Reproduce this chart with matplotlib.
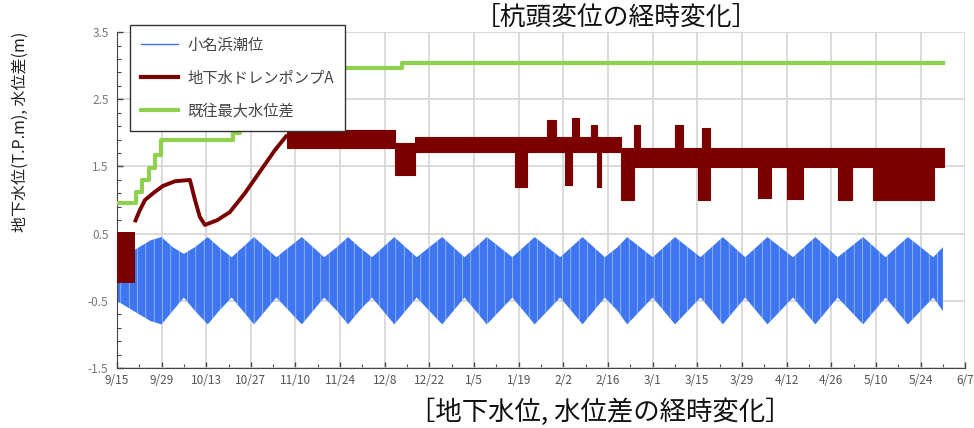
import matplotlib
matplotlib.use("Agg")
import matplotlib.pyplot as plt
import numpy as np
import datetime as dt

plt.rcParams['font.family'] = ['Noto Sans CJK JP', 'DejaVu Sans']
plt.rcParams['hatch.linewidth'] = 0.35

START = dt.datetime(2015, 9, 15)

# ---------------- data (days since 9/15) ----------------
tick_labels = ["9/15", "9/29", "10/13", "10/27", "11/10", "11/24", "12/8", "12/22",
               "1/5", "1/19", "2/2", "2/16", "3/1", "3/15", "3/29", "4/12",
               "4/26", "5/10", "5/24", "6/7"]
y_ticks = [3.5, 2.5, 1.5, 0.5, -0.5, -1.5]

# tide level (小名浜潮位) envelope
tide_days = [0, 3.5, 7, 10.5, 14, 17.5, 21, 24.5, 28.5, 32, 36, 39.5, 43, 46.5, 50,
             54, 58, 61.5, 65, 69, 72.5, 76, 80, 83.5, 87, 90.5, 94, 98, 102,
             105.5, 109, 112.5, 116, 120, 124, 127.5, 131, 135, 139, 142.5, 146,
             149.5, 153, 157, 160, 164, 168, 171.5, 175, 179, 183, 186.5, 190,
             193.5, 197, 200.5, 204, 208, 212, 215.5, 219, 222.5, 226, 230, 234,
             237.5, 241, 244.5, 248, 252, 256, 259]
tide_high = [-0.25, 0.2, 0.3, 0.4, 0.45, 0.3, 0.2, 0.3, 0.45, 0.3, 0.15, 0.3, 0.45,
             0.3, 0.15, 0.3, 0.45, 0.3, 0.15, 0.3, 0.45, 0.3, 0.15, 0.3, 0.45, 0.3,
             0.15, 0.3, 0.45, 0.3, 0.15, 0.3, 0.45, 0.3, 0.15, 0.3, 0.45, 0.3, 0.15,
             0.3, 0.45, 0.3, 0.15, 0.3, 0.45, 0.3, 0.15, 0.3, 0.45, 0.3, 0.15, 0.3,
             0.45, 0.3, 0.15, 0.3, 0.45, 0.3, 0.15, 0.3, 0.45, 0.3, 0.15, 0.3, 0.45,
             0.3, 0.15, 0.3, 0.45, 0.3, 0.15, 0.3]
tide_low = [-0.5, -0.6, -0.7, -0.8, -0.85, -0.65, -0.45, -0.65, -0.85, -0.65,
            -0.45, -0.65, -0.85, -0.65, -0.45, -0.65, -0.85, -0.65, -0.45, -0.65,
            -0.85, -0.65, -0.45, -0.65, -0.85, -0.65, -0.45, -0.65, -0.85, -0.65,
            -0.45, -0.65, -0.85, -0.65, -0.45, -0.65, -0.85, -0.65, -0.45, -0.65,
            -0.85, -0.65, -0.45, -0.65, -0.85, -0.65, -0.45, -0.65, -0.85, -0.65,
            -0.45, -0.65, -0.85, -0.65, -0.45, -0.65, -0.85, -0.65, -0.45, -0.65,
            -0.85, -0.65, -0.45, -0.65, -0.85, -0.65, -0.45, -0.65, -0.85, -0.65,
            -0.45, -0.65]

# groundwater (地下水ドレンポンプA): early thin line
gw_line_days = [5.6, 7.2, 8.8, 11.3, 14.4, 18.2, 22.9, 24.5, 26.0, 27.6, 31.4,
                35.4, 40.1, 44.8, 49.5, 53.4]
gw_line_vals = [0.67, 0.85, 1.0, 1.1, 1.21, 1.28, 1.30, 1.0, 0.75, 0.63, 0.70,
                0.82, 1.10, 1.42, 1.74, 1.97]
# noisy band at the start
gw_start_days = [0, 5.6]
gw_start_high = [0.52, 0.52]
gw_start_low = [-0.23, -0.23]
# thick band (upper / lower envelope, piecewise constant)
gw_band_days = [53.4, 87.2, 93.5, 124.9, 128.7, 133.1, 135.0, 137.8, 140.6, 142.8,
                145.0, 147.2, 148.8, 150.4, 151.9, 158.2, 162.0, 163.9, 165.8,
                174.9, 177.4, 182.3, 183.6, 186.1, 201.1, 205.2, 210.2, 215.2,
                226.2, 230.6, 237.2, 256.3, 259.3]
gw_band_high = [2.05, 1.85, 1.94, 1.94, 1.94, 1.94, 2.19, 1.94, 1.94, 2.22, 1.94,
                1.94, 2.12, 1.94, 1.94, 1.77, 2.12, 1.77, 1.77, 2.12, 1.77, 1.77,
                2.07, 1.77, 1.77, 1.77, 1.77, 1.77, 1.77, 1.77, 1.77, 1.77, 1.77]
gw_band_low = [1.78, 1.38, 1.71, 1.19, 1.71, 1.71, 1.71, 1.71, 1.22, 1.71, 1.71,
               1.71, 1.71, 1.19, 1.71, 1.0, 1.49, 1.49, 1.49, 1.49, 1.49, 1.0,
               1.0, 1.49, 1.03, 1.49, 1.02, 1.49, 1.0, 1.49, 1.0, 1.49, 1.49]

# max water level difference (既往最大水位差), step line
maxdiff_days = [0, 6.0, 7.8, 10.0, 11.9, 13.8, 36.4, 38.6, 41.7, 45.5, 48.6, 57.4,
                89.4, 259.0]
maxdiff_vals = [0.95, 1.12, 1.30, 1.48, 1.67, 1.89, 2.0, 2.12, 2.25, 2.38, 2.5,
                2.96, 3.04, 3.04]

# ---------------- drawing ----------------
def to_dates(days):
    return [START + dt.timedelta(days=float(d)) for d in days]

C_BLUE = "#3d76f0"
C_RED = "#7a0000"
C_GREEN = "#8fd14f"

fig = plt.figure(figsize=(9.74, 4.28), dpi=100)
ax = fig.add_axes([0.120, 0.140, 0.871, 0.785])

ax.fill_between(to_dates(tide_days), tide_low, tide_high, facecolor=C_BLUE,
                edgecolor='#dfe8ff', hatch='||', lw=0, zorder=2)
ax.plot([], [], color=C_BLUE, lw=1.0, label="小名浜潮位")

ax.fill_between(to_dates(gw_start_days), gw_start_low, gw_start_high, color=C_RED,
                lw=0, zorder=3)
ax.plot(to_dates(gw_line_days), gw_line_vals, color=C_RED, lw=2.8, zorder=3,
        solid_capstyle='butt')
ax.fill_between(to_dates(gw_band_days), gw_band_low, gw_band_high, step='post',
                color=C_RED, lw=0.8, edgecolor=C_RED, zorder=3)
ax.plot([], [], color=C_RED, lw=3.0, label="地下水ドレンポンプA")

ax.plot(to_dates(maxdiff_days), maxdiff_vals, drawstyle='steps-post',
        color=C_GREEN, lw=3.0, zorder=4, label="既往最大水位差")

x0 = START
x1 = START + dt.timedelta(days=14 * 19)
ax.set_xlim(x0, x1)
ax.set_ylim(-1.5, 3.5)

major = [START + dt.timedelta(days=14 * i) for i in range(len(tick_labels))]
ax.set_xticks(major)
ax.set_xticklabels(tick_labels)
ax.set_xticks([START + dt.timedelta(days=7 + 14 * i) for i in range(19)], minor=True)
ax.set_yticks(y_ticks)
ax.set_yticklabels([f"{v:.1f}" for v in y_ticks])
ax.set_yticks(np.arange(-1.5, 3.51, 0.2), minor=True)

ax.grid(True, which='major', color='#d4d4d4', lw=1.2, zorder=0)
ax.set_axisbelow(True)
for s in ['top', 'right']:
    ax.spines[s].set_visible(False)
ax.spines['left'].set_color('#444444')
ax.spines['bottom'].set_color('#444444')
ax.tick_params(axis='both', which='major', direction='in', length=4, width=1,
               colors='#444444', labelsize=8.5)
ax.tick_params(axis='both', which='minor', direction='in', length=3, width=0.8,
               colors='#444444')
ax.tick_params(axis='y', labelcolor='#777777', pad=6)
ax.tick_params(axis='x', labelcolor='#555555', pad=4)

leg = ax.legend(loc='upper left', bbox_to_anchor=(130 / 974, 1 - 25 / 428),
                bbox_transform=fig.transFigure, frameon=True, fancybox=False,
                edgecolor='#333333', framealpha=1, fontsize=11, handlelength=2.4,
                labelspacing=1.05, borderpad=0.75, handletextpad=0.6,
                borderaxespad=0)
for t in leg.get_texts():
    t.set_color('#444444')
leg.set_zorder(10)

fig.text(20 / 974, 1 - 132 / 428, "地下水位(T.P.m), 水位差(m)", rotation=90,
         ha='center', va='center', fontsize=11.5, color='#222222')
fig.text(616 / 974, 1 - 18 / 428, "［杭頭変位の経時変化］", ha='center',
         va='center', fontsize=18.5, color='#111111')
fig.text(600 / 974, 1 - 412 / 428, "［地下水位, 水位差の経時変化］", ha='center',
         va='center', fontsize=19, color='#111111')

fig.savefig("out.png", dpi=100)
